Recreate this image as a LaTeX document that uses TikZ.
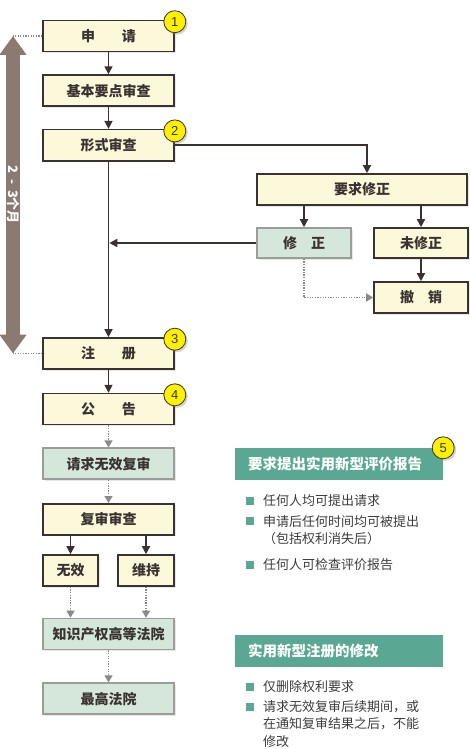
\documentclass[tikz,border=0pt]{standalone}
\usepackage{fontspec}
\setmainfont{Noto Sans CJK SC}
\newfontfamily\numfont{Liberation Sans}
\usetikzlibrary{positioning, calc, arrows.meta, shadows}
\definecolor{boxline}{HTML}{3A3230}
\definecolor{cream}{HTML}{FCF8DA}
\definecolor{mint}{HTML}{D4E7DA}
\definecolor{mintline}{HTML}{9A9E9A}
\definecolor{teal}{HTML}{5AA893}
\definecolor{badgey}{HTML}{FFF000}
\definecolor{spanbrown}{HTML}{8A7A72}
\definecolor{dotgray}{HTML}{8A8A8A}
\definecolor{textgray}{HTML}{3C3C3C}

\begin{document}
\begin{tikzpicture}[x=1pt, y=-1pt,
    every node/.style={inner sep=0pt, font=\fontsize{14}{16}\selectfont\bfseries, text=boxline},
    ybox/.style={draw=boxline, line width=1.6pt, fill=cream, minimum width=131pt, minimum height=31pt,
        drop shadow={shadow xshift=1.5pt, shadow yshift=-1.5pt, opacity=0.18}},
    gbox/.style={ybox, draw=mintline, fill=mint},
    badge/.style={circle, draw=boxline, line width=0.8pt, fill=badgey, minimum size=22pt,
        font=\numfont\fontsize{13}{13}\selectfont, drop shadow={shadow xshift=2pt, shadow yshift=-2pt, opacity=0.35}},
    arr/.style={draw=boxline, line width=1.5pt, -{Triangle[width=8pt,length=8pt]}},
    dots/.style={draw=dotgray, line width=1.3pt, dash pattern=on 1.3pt off 1.3pt},
    garr/.style={dots, -{Triangle[width=8pt,length=7pt]}},
    hdr/.style={fill=teal, text=white, text width=182pt, inner xsep=13pt, minimum height=32pt, align=left,
        font=\fontsize{14.5}{16}\selectfont\bfseries},
    bul/.style={fill=teal, minimum size=7.5pt},
    item/.style={anchor=west, align=left, text=textgray, font=\fontsize{13}{17.5}\selectfont}]
\useasboundingbox (0,0) rectangle (470,749);

\node[ybox] (apply) at (108.5,36) {申\hspace{1.9em}请};
\node[ybox, below=22pt of apply] (basic) {基本要点审查};
\node[ybox, below=22pt of basic] (formal) {形式审查};
\node[ybox] (reg) at (108.5,353.5) {注\hspace{1.9em}册};
\node[ybox, below=23pt of reg] (pub) {公\hspace{1.9em}告};
\node[gbox, below=22pt of pub] (invreq) {请求无效复审};
\node[ybox, below=23pt of invreq] (review) {复审审查};
\node[ybox, minimum width=55pt] (invalid) at (70.5,570.5) {无效};
\node[ybox, minimum width=56pt] (keep) at (146,570.5) {维持};
\node[gbox] (ipcourt) at (108.5,634) {知识产权高等法院};
\node[gbox, below=32pt of ipcourt] (supreme) {最高法院};

\node[ybox, minimum width=210pt] (demand) at (362,189.5) {要求修正};
\node[gbox, minimum width=94pt, minimum height=30pt] (amend) at (304,243) {修\hspace{1em}正};
\node[ybox, minimum width=94pt, minimum height=30pt] (noamend) at (421,243) {未修正};
\node[ybox, minimum width=94pt] (revoke) at (421,297.5) {撤\hspace{1em}销};

\foreach \b/\n in {apply/1, formal/2, reg/3, pub/4}
    \node[badge] (n\n) at ([yshift=-2pt]\b.north east) {\n};

\coordinate (ttop) at (13,36);
\coordinate (tbot) at (13,353.5);
\draw[spanbrown, line width=14pt, {Triangle[width=26pt,length=19pt]}-{Triangle[width=26pt,length=19pt]}]
    (ttop) -- (tbot) node[midway, rotate=-90, text=white, font=\fontsize{13}{13}\selectfont\bfseries]
    {2\hspace{0.45em}-\hspace{0.45em}3个月};
\draw[dots] (apply.west) -- (ttop);
\draw[dots] (reg.west) -- (tbot);

\draw[arr] (apply) -- (basic);
\draw[arr] (basic) -- (formal);
\draw[arr] (formal) -- (reg);
\draw[arr] (formal.east) -| ([xshift=5pt]demand.north);
\draw[arr] (demand.south -| amend) -- (amend);
\draw[arr] (demand.south -| noamend) -- (noamend);
\draw[arr] (noamend) -- (revoke);
\draw[arr, shorten >=0.8pt] (amend.west) -- (amend.west -| formal.south);
\draw[garr] (amend.south) |- (revoke.west);
\draw[arr] (reg) -- (pub);
\draw[garr] (pub) -- (invreq);
\draw[garr] (invreq) -- (review);
\draw[arr] (review.south -| invalid) -- (invalid);
\draw[arr] (review.south -| keep) -- (keep);
\draw[garr] (invalid.south) -- (invalid.south |- ipcourt.north);
\draw[garr] (keep.south) -- (keep.south |- ipcourt.north);
\draw[garr] (ipcourt) -- (supreme);

\node[hdr] (hdrA) at (339,464) {要求提出实用新型评价报告};
\node[badge] (n5) at (hdrA.north east) {5};
\node[bul] (ba1) at (250,501) {};
\node[item] (ia1) at (263,501) {任何人均可提出请求};
\node[bul] (ba2) at (250,521) {};
\node[item] (ia2) at (263,530) {申请后任何时间均可被提出\\（包括权利消失后）};
\node[bul] (ba3) at (250,565) {};
\node[item] (ia3) at (263,565) {任何人可检查评价报告};

\node[hdr] (hdrB) at (339,650.5) {实用新型注册的修改};
\node[bul] (bb1) at (250,687) {};
\node[item] (ib1) at (263,687) {仅删除权利要求};
\node[bul] (bb2) at (250,707) {};
\node[item] (ib2) at (263,724) {请求无效复审后续期间，或\\在通知复审结果之后，不能\\修改};
\end{tikzpicture}
\end{document}
